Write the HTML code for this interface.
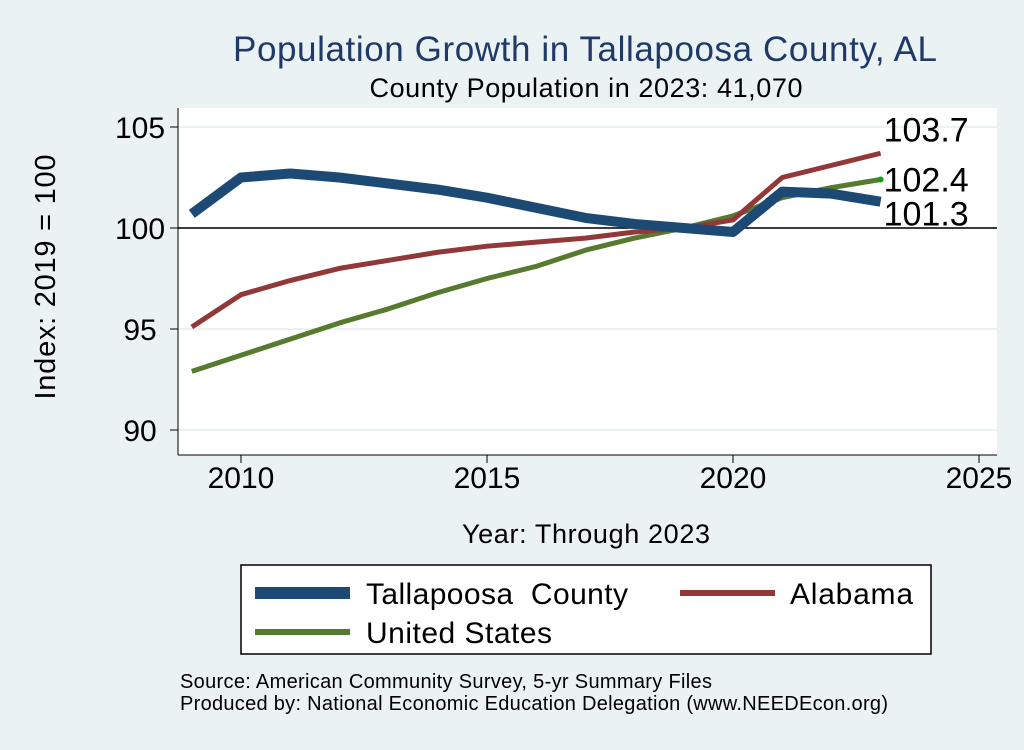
<!DOCTYPE html>
<html><head><meta charset="utf-8"><style>
body{margin:0;background:#eaf2f3;font-family:"Liberation Sans",Arial,sans-serif;}
svg text{font-family:"Liberation Sans",Arial,sans-serif;white-space:pre;}
</style></head><body>
<svg width="1024" height="745" viewBox="0 0 1024 745">
<rect x="0" y="0" width="1024" height="745" fill="#eaf2f3"/>
<text x="585" y="61" font-size="35" fill="#1f3a68" text-anchor="middle" textLength="704">Population Growth in Tallapoosa County, AL</text>
<text x="586" y="97" font-size="27" fill="#000" text-anchor="middle" textLength="433">County Population in 2023: 41,070</text>
<rect x="178" y="108" width="819" height="347" fill="#fff"/>
<g id="grid"></g><g id="axes"></g><g id="series"></g><g id="labels"></g>
<text x="55" y="277" font-size="29" text-anchor="middle" transform="rotate(-90 55 277)" textLength="245">Index: 2019 = 100</text>
<text x="586" y="543" font-size="27" text-anchor="middle" textLength="248">Year: Through 2023</text>
<g>
<rect x="241" y="565" width="690" height="89" fill="#fff" stroke="#000" stroke-width="1.5"/>
<line x1="255" y1="593" x2="350" y2="593" stroke="#1c4a74" stroke-width="12"/>
<text x="366" y="604" font-size="30" textLength="262">Tallapoosa  County</text>
<line x1="680" y1="593" x2="775" y2="593" stroke="#923838" stroke-width="6"/>
<text x="790" y="604" font-size="30" textLength="123">Alabama</text>
<line x1="255" y1="632" x2="350" y2="632" stroke="#567a2e" stroke-width="6"/>
<text x="366" y="643" font-size="30" textLength="186">United States</text>
</g>
<text x="180" y="688" font-size="20" textLength="532">Source: American Community Survey, 5-yr Summary Files</text>
<text x="180" y="710" font-size="20" textLength="708">Produced by: National Economic Education Delegation (www.NEEDEcon.org)</text>
</svg>
<script>
const years=[2009,2010,2011,2012,2013,2014,2015,2016,2017,2018,2019,2020,2021,2022,2023];
const county=[100.7,102.5,102.7,102.5,102.2,101.9,101.5,101.0,100.5,100.2,100.0,99.8,101.8,101.7,101.3];
const alabama=[95.1,96.7,97.4,98.0,98.4,98.8,99.1,99.3,99.5,99.8,100.0,100.4,102.5,103.1,103.7];
const us=[92.9,93.7,94.5,95.3,96.0,96.8,97.5,98.1,98.9,99.5,100.0,100.6,101.5,102.0,102.4];
const xTicks=[2010,2015,2020,2025];
const yTicks=[90,95,100,105];
const endLabels=["101.3","102.4","103.7"];
const NS="http://www.w3.org/2000/svg";
const X=v=>241+(v-2010)*49.2;
const Y=v=>228-(v-100)*20.2;
function mk(tag,attrs,parent,txt){const e=document.createElementNS(NS,tag);for(const k in attrs)e.setAttribute(k,attrs[k]);if(txt!==undefined)e.textContent=txt;document.getElementById(parent).appendChild(e);return e;}
yTicks.forEach(t=>{
  const g=mk('line',{x1:178,x2:997,y1:Y(t),y2:Y(t),stroke:'#eaf2f3','stroke-width':2},'grid');
  
  
  const tk=mk('line',{x1:170,x2:178,y1:Y(t),y2:Y(t),stroke:'#000'},'axes');
  
  
  const l=mk('text',{x:140,y:Y(t)+11,'font-size':30,'text-anchor':'middle'},'axes',String(t));
  
  
});
xTicks.forEach(t=>{
  const tk=mk('line',{x1:X(t),x2:X(t),y1:455,y2:463,stroke:'#000'},'axes');
  
  
  const l=mk('text',{x:X(t),y:488,'font-size':30,'text-anchor':'middle'},'axes',String(t));
  
  
});
const ax1=mk('line',{x1:178,x2:178,y1:108,y2:455,stroke:'#000'},'axes');


const ax2=mk('line',{x1:178,x2:997,y1:455,y2:455,stroke:'#000'},'axes');


const ref=mk('line',{x1:178,x2:997,y1:Y(100),y2:Y(100),stroke:'#000','stroke-width':1.5},'axes');


function line(vals,color,w,name){
  const p=mk('polyline',{points:vals.map((v,i)=>X(years[i])+','+Y(v)).join(' '),fill:'none',stroke:color,'stroke-width':w,'stroke-linejoin':'round'},'series');
  
  
}
line(us,'#567a2e',5,'line-united-states');
line(alabama,'#923838',5,'line-alabama');
line(county,'#1c4a74',10,'line-tallapoosa-county');
const last=years.length-1;
const dot=mk('circle',{cx:X(years[last]),cy:Y(us[last]),r:3,fill:'#1a9a1a'},'series');


[[county,endLabels[0]],[us,endLabels[1]],[alabama,endLabels[2]]].forEach(([s,txt],i)=>{
  let yy=Y(s[last])+12;
  if(i===0)yy=Y(s[last])+24; if(i===2)yy=Y(s[last])-12;
  const l=mk('text',{x:X(years[last])+3,y:yy,'font-size':34},'labels',txt);
  
  
});
</script>
</body></html>
